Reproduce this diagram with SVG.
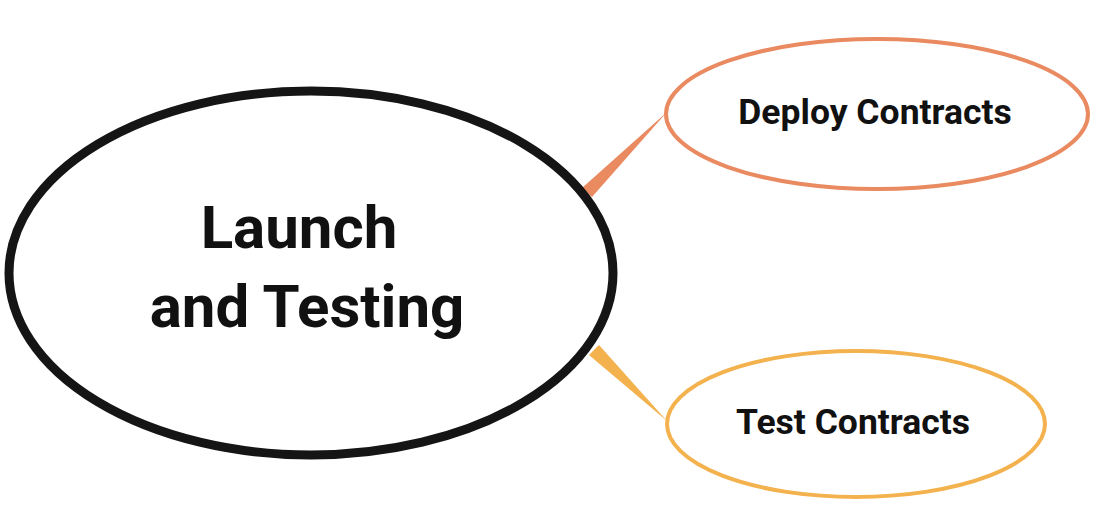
<svg xmlns="http://www.w3.org/2000/svg" width="1098" height="508" viewBox="0 0 1098 508">
<style>
.t{font-family:Roboto,"Liberation Sans",sans-serif;font-weight:bold;fill:#111;text-anchor:middle}
.main{fill:#fff;stroke:#151515;stroke-width:9}
.c{fill:#fff;stroke-width:4}
</style>
<rect width="1098" height="508" fill="#fff"/>
<g id="connectors">
<polygon points="582,188 592,197 667,112" fill="#E98A60"/>
<polygon points="599,345 589,355 667,421" fill="#F3B24E"/>
</g>
<g id="main">
<ellipse class="main" cx="311" cy="273" rx="302" ry="182"/>
<text class="t" x="299" y="248" font-size="60">Launch</text>
<text class="t" x="307" y="327" font-size="60">and Testing</text>
</g>
<g id="deploy">
<ellipse class="c" cx="877" cy="114" rx="211" ry="75" stroke="#E98A60"/>
<text class="t" x="875" y="124" font-size="35.5">Deploy Contracts</text>
</g>
<g id="test">
<ellipse class="c" cx="856" cy="424" rx="189" ry="73" stroke="#F3B24E"/>
<text class="t" x="853" y="434" font-size="35.5">Test Contracts</text>
</g>
</svg>
